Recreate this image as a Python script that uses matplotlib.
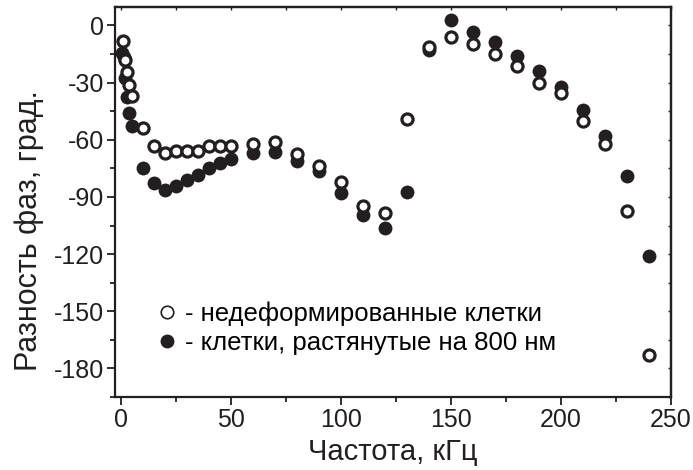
import matplotlib
matplotlib.use("Agg")
import matplotlib.pyplot as plt
from matplotlib.lines import Line2D

plt.rcParams['font.family'] = ['Liberation Sans Narrow', 'Liberation Sans', 'DejaVu Sans']
plt.rcParams['axes.unicode_minus'] = False

INK = '#231f20'

# Undeformed cells
freq_open = [1, 2, 3, 4, 5, 10, 15, 20, 25, 30, 35, 40, 45, 50, 60, 70, 80, 90,
             100, 110, 120, 130, 140, 150, 160, 170, 180, 190, 200, 210, 220, 230, 240]
phase_open = [-8, -18, -24.5, -31, -37, -54, -63, -66.7, -66.1, -65.8, -66.1, -63.2, -63, -63,
              -62.1, -61.4, -67.3, -74, -81.9, -94.6, -98.4, -49.2, -11.1, -5.9, -9.9,
              -15.1, -21.2, -30, -35.2, -49.9, -62.1, -97.2, -173.2]

# Cells stretched by 800 nm
freq_fill = [0.5, 1.5, 2, 3, 4, 5, 10, 15, 20, 25, 30, 35, 40, 45, 50, 60, 70, 80, 90,
             100, 110, 120, 130, 140, 150, 160, 170, 180, 190, 200, 210, 220, 230, 240]
phase_fill = [-14.6, -16.7, -27.7, -37.3, -46, -52.7, -74.8, -82.7, -86.2, -84.1, -81, -78.4,
              -74.8, -72.2, -70.1, -67, -66.5, -70.9, -76.6, -87.9, -99.3, -106.3, -87.6,
              -12.8, 2.9, -3.6, -8.5, -16, -23.7, -32.4, -44.3, -57.9, -78.9, -120.8]

label_open = '- недеформированные клетки'
label_fill = '- клетки, растянутые на 800 нм'
xlabel = 'Частота, кГц'
ylabel = 'Разность фаз, град.'
xticks = [0, 50, 100, 150, 200, 250]
yticks = [0, -30, -60, -90, -120, -150, -180]

fig = plt.figure(figsize=(6.93, 4.70), dpi=100)
ax = fig.add_axes([115 / 693, 1 - 397 / 470, 556 / 693, 390 / 470])

ax.plot(freq_fill, phase_fill, 'o', ms=10, mfc=INK, mec=INK, mew=0, zorder=2)
ax.plot(freq_open, phase_open, 'o', ms=8, mfc='white', mec=INK, mew=2.3, zorder=3)

ax.set_xlim(-2.5, 250)
ax.set_ylim(-195, 9.7)
ax.set_xticks(xticks)
ax.set_yticks(yticks)
ax.set_xticks(range(0, 251, 25), minor=True)
ax.set_yticks(range(-195, 10, 15), minor=True)
ax.tick_params(which='major', direction='out', length=6, width=1.3, colors=INK,
               labelsize=18, pad=2)
ax.tick_params(which='minor', direction='out', length=3.5, width=1.3, colors=INK)
for s in ax.spines.values():
    s.set_linewidth(1.6)
    s.set_color(INK)

# inward ticks along the top and right frame
top = ax.secondary_xaxis('top')
top.set_xticks(range(0, 251, 25))
top.tick_params(direction='in', length=2.5, width=1, colors=INK, labeltop=False)
right = ax.secondary_yaxis('right')
right.set_yticks(range(-195, 10, 15))
right.tick_params(direction='in', length=2.5, width=1, colors=INK, labelright=False)
for sec in (top, right):
    for s in sec.spines.values():
        s.set_linewidth(1.6)
        s.set_color(INK)

ax.set_xlabel(xlabel, fontsize=21, color=INK, labelpad=4)
ax.set_ylabel(ylabel, fontsize=22, color=INK)
ax.yaxis.set_label_coords(-0.127, 0.428)

handles = [
    Line2D([], [], ls='none', marker='o', ms=9, mfc='white', mec=INK, mew=1.2),
    Line2D([], [], ls='none', marker='o', ms=10, mfc=INK, mec=INK, mew=0),
]
ax.legend(handles, [label_open, label_fill], loc='lower left',
          bbox_to_anchor=(0.075, 0.108), frameon=False, handlelength=0.8,
          handletextpad=0.3, labelspacing=0.2, borderpad=0, borderaxespad=0,
          prop={'family': ['Liberation Sans', 'DejaVu Sans'], 'size': 18.5})

fig.savefig('out.png', dpi=100)
